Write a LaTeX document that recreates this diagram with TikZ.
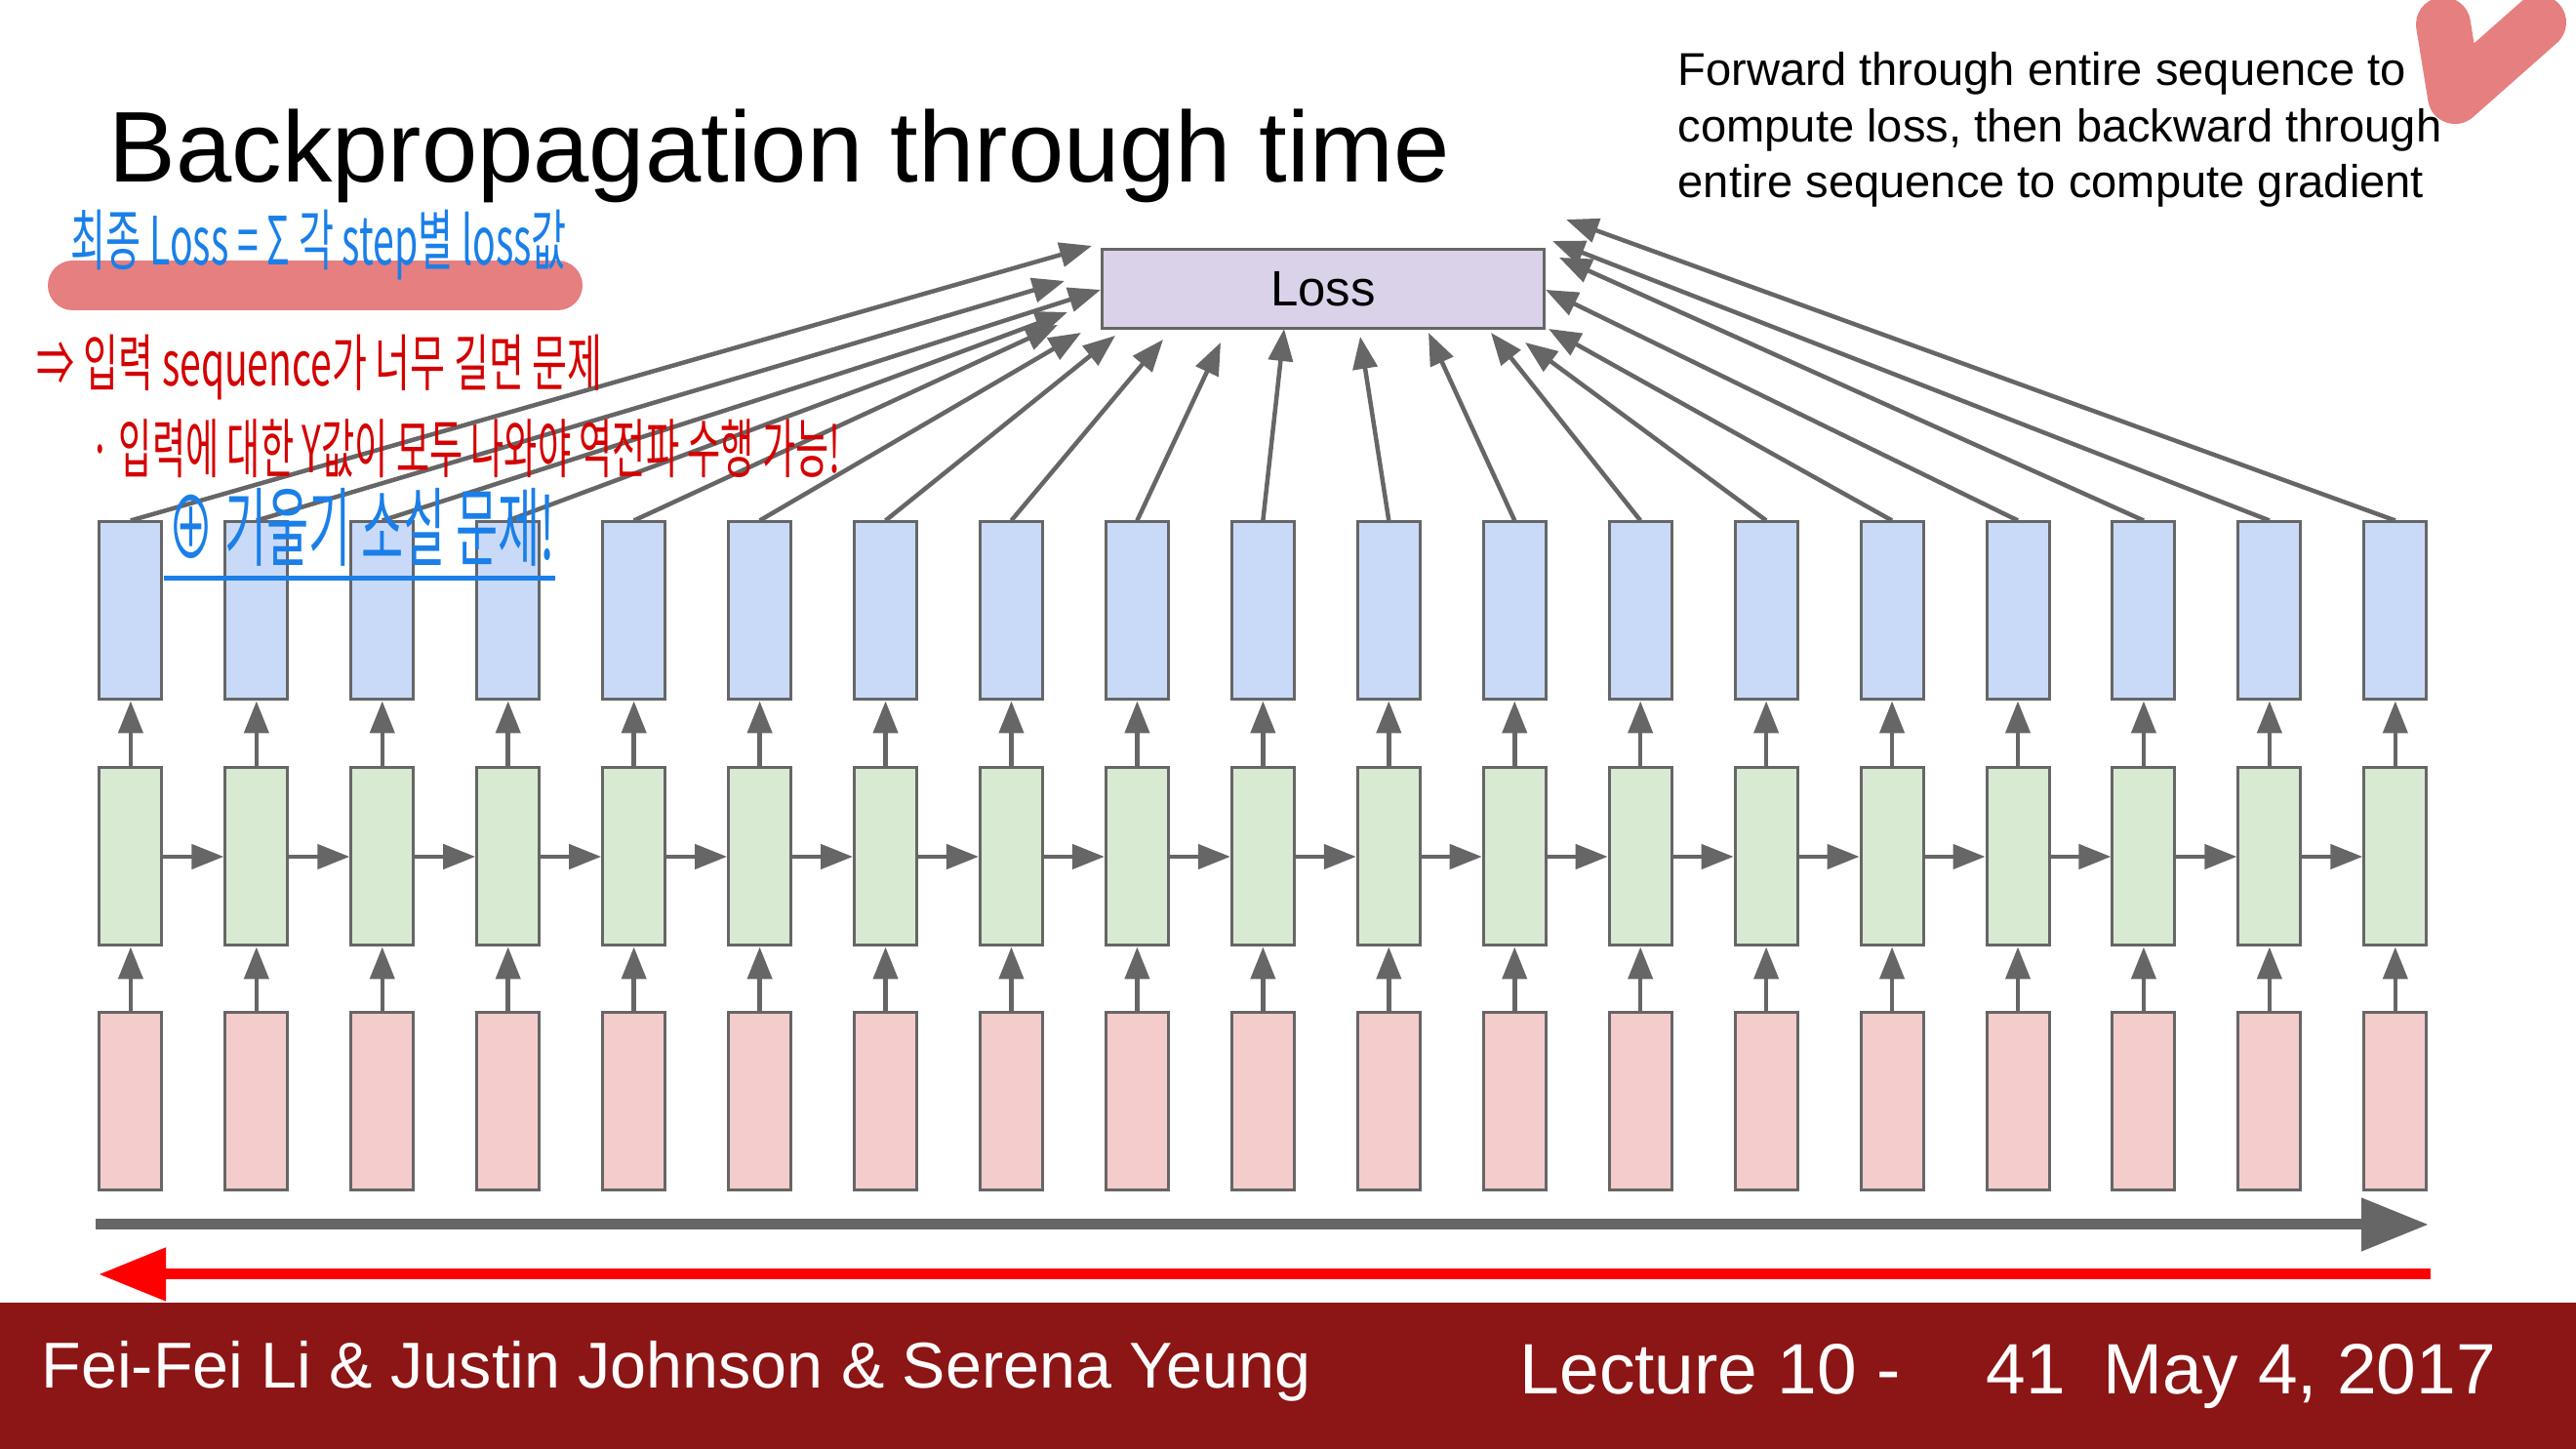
\documentclass[tikz,border=0pt]{standalone}
\usepackage{fontspec}
\setmainfont{Liberation Sans}
\newfontfamily\krfont{Noto Sans CJK KR}
\usepackage{graphicx}
\usetikzlibrary{arrows.meta,positioning}
\definecolor{cellgray}{HTML}{666666}
\definecolor{outblue}{HTML}{C9DAF8}
\definecolor{hidgreen}{HTML}{D9EAD3}
\definecolor{inpink}{HTML}{F4CCCC}
\definecolor{losslilac}{HTML}{D9D2E9}
\definecolor{footred}{HTML}{8C1515}
\definecolor{penblue}{HTML}{1A7FE8}
\definecolor{penred}{HTML}{D40000}
\definecolor{marker}{HTML}{E67F7F}
\newcommand{\memo}[3]{\resizebox*{#1}{#2}{\krfont #3}}

\begin{document}
\begin{tikzpicture}[>=Stealth,
  txt/.style={anchor=base west,inner sep=0pt},
  cell/.style={draw=cellgray,line width=0.03cm,minimum width=0.64cm,minimum height=1.82cm,inner sep=0pt},
  link/.style={draw=cellgray,line width=0.045cm,-{Triangle[length=0.33cm,width=0.25cm]}},
  bigarrow/.style={line width=0.11cm,-{Triangle[length=0.69cm,width=0.52cm]}}]
  \useasboundingbox (0,0) rectangle (26.4,14.85);

  % title and note
  \node[txt,font=\fontsize{29.3}{35}\selectfont] (title) at (1.11,12.98) {Backpropagation through time};
  \node[txt,font=\fontsize{13.4}{16}\selectfont] (note1) at (17.19,13.97) {Forward through entire sequence to};
  \node[txt,font=\fontsize{13.4}{16}\selectfont] (note2) at (17.19,13.39) {compute loss, then backward through};
  \node[txt,font=\fontsize{13.4}{16}\selectfont] (note3) at (17.19,12.82) {entire sequence to compute gradient};

  % unrolled network
  \foreach \i in {0,...,18}{
    \node[cell,fill=inpink] (x\i) at ({1.339+1.2894*\i},3.56) {};
    \node[cell,fill=hidgreen] (h\i) at ({1.339+1.2894*\i},6.07) {};
    \node[cell,fill=outblue] (y\i) at ({1.339+1.2894*\i},8.59) {};
    \draw[link] (x\i) -- (h\i);
    \draw[link] (h\i) -- (y\i);
  }
  \foreach \i [remember=\i as \j (initially 0)] in {1,...,18}
    \draw[link] (h\j) -- (h\i);

  \node[draw=cellgray,fill=losslilac,line width=0.03cm,minimum width=4.53cm,minimum height=0.81cm,
    font=\fontsize{14.5}{17}\selectfont] (loss) at (13.56,11.89) {Loss};
  \foreach \i/\tx/\ty in {0/11.19/12.33,1/10.91/11.97,2/11.28/11.88,3/10.94/11.65,4/10.84/11.52,
      5/11.08/11.44,6/11.43/11.41,7/11.92/11.37,8/12.51/11.34,9/13.16/11.48,10/13.94/11.40,
      11/14.64/11.44,12/15.28/11.44,13/15.63/11.34,14/15.87/11.48,15/15.84/11.88,
      16/15.98/12.21,17/15.91/12.38,18/16.05/12.60}{
    \coordinate (tip\i) at (\tx,\ty);
    \draw[link] (y\i.north) -- (tip\i);
  }

  % forward / backward
  \coordinate (fwdA) at (0.98,2.30);
  \coordinate (fwdB) at (24.89,2.30);
  \coordinate (bwdA) at (24.91,1.79);
  \coordinate (bwdB) at (1.01,1.79);
  \draw[bigarrow,cellgray] (fwdA) -- (fwdB);
  \draw[bigarrow,red] (bwdA) -- (bwdB);

  % handwritten notes
  \draw[marker,line width=0.51cm,line cap=round] (0.745,11.925) -- (5.715,11.925);
  \draw[marker,line width=0.56cm,line cap=round,line join=round] (25.04,14.60) -- (25.16,13.86) -- (26.02,14.62);
  \node[anchor=west,inner sep=0pt,text=penblue] (memo1) at (0.72,12.34) {\memo{5.08cm}{0.72cm}{최종 Loss = Σ 각 step별 loss값}};
  \node[anchor=west,inner sep=0pt,text=penred] (memo2) at (0.37,11.085) {\memo{5.80cm}{0.67cm}{⇒ 입력 sequence가 너무 길면 문제}};
  \node[anchor=west,inner sep=0pt,text=penred] (memo3) at (0.92,10.25) {\memo{7.69cm}{0.60cm}{· 입력에 대한 Y값이 모두 나와야 역전파 수행 가능!}};
  \node[anchor=west,inner sep=0pt,text=penblue] (memo4) at (1.72,9.45) {\memo{3.96cm}{0.80cm}{⊕ 기울기 소실 문제!}};
  \draw[penblue,line width=0.05cm] ([xshift=-0.04cm,yshift=-0.12cm]memo4.south west) -- ([yshift=-0.12cm]memo4.south east);

  % footer
  \fill[footred] (0,0) rectangle (26.4,1.50);
  \node[txt,text=white,font=\fontsize{18.9}{22}\selectfont] (authors) at (0.42,0.62) {Fei-Fei Li \& Justin Johnson \& Serena Yeung};
  \node[txt,text=white,font=\fontsize{20.8}{24}\selectfont] (lecture) at (15.57,0.56) {Lecture 10 -};
  \node[txt,text=white,font=\fontsize{20.8}{24}\selectfont] (slide) at (20.35,0.56) {41};
  \node[txt,text=white,font=\fontsize{20.8}{24}\selectfont] (date) at (21.55,0.56) {May 4, 2017};
\end{tikzpicture}
\end{document}
